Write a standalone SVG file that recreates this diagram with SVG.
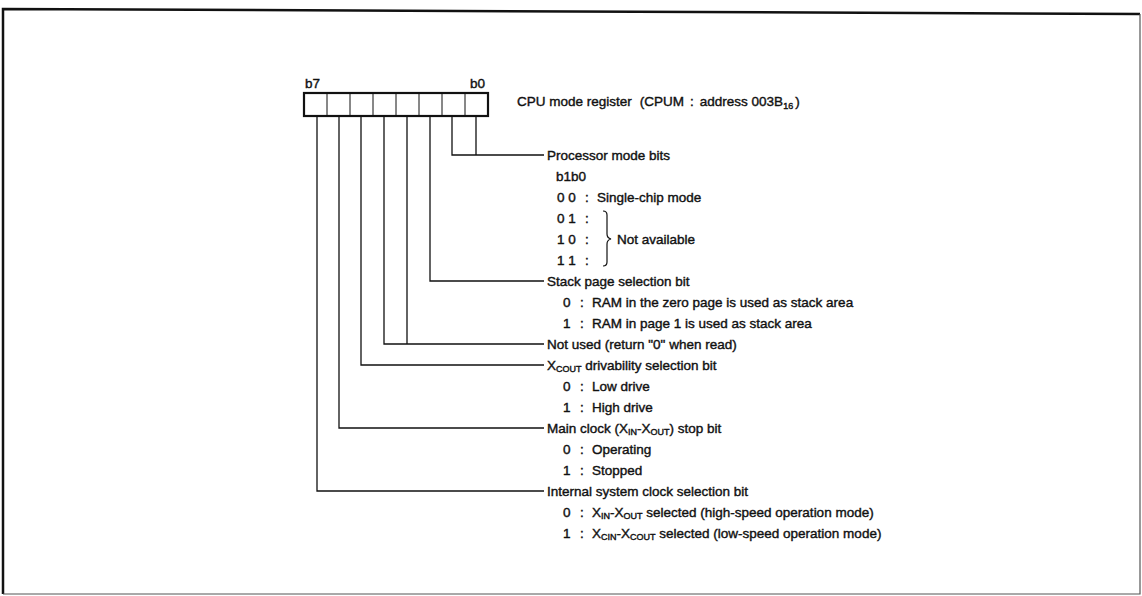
<svg xmlns="http://www.w3.org/2000/svg" width="1142" height="596" viewBox="0 0 1142 596">
<style>
text{font-family:"Liberation Sans",Arial,sans-serif;font-size:13.5px;fill:#111;stroke:#111;stroke-width:0.4}
.sub{font-size:9px}
.conn{fill:none;stroke:#111;stroke-width:1.3}
.cell{fill:none;stroke:#111;stroke-width:1}
</style>
<rect width="1142" height="596" fill="#fff"/>
<g id="frame">
<path d="M3,594 L3,9 L1140,14" fill="none" stroke="#111" stroke-width="2.5"/>
<path d="M1140,14 L1140,594 L3,594" fill="none" stroke="#555" stroke-width="1.2"/>
</g>
<g id="register">
<text x="305" y="88">b7</text>
<text x="470" y="88">b0</text>
<rect x="304" y="93" width="184" height="23" fill="none" stroke="#111" stroke-width="2.2"/>
<path class="cell" d="M327,93V116M350,93V116M373,93V116M396,93V116M419,93V116M442,93V116M465,93V116"/>
<text x="517" y="106">CPU mode register<tspan dx="8">(CPUM</tspan><tspan dx="6">:</tspan><tspan dx="6">address 003B</tspan><tspan class="sub" dy="3">16</tspan><tspan dy="-3" dx="2">)</tspan></text>
</g>
<g id="connectors">
<path class="conn" d="M476,116V155M452,116V155H544"/>
<path class="conn" d="M430,116V281H544"/>
<path class="conn" d="M407,116V344M384,116V344H544"/>
<path class="conn" d="M361,116V365H544"/>
<path class="conn" d="M339,116V428H544"/>
<path class="conn" d="M317,116V491H544"/>
</g>
<g id="processor-mode-bits">
<text x="547" y="160">Processor mode bits</text>
<text x="556" y="181">b1b0</text>
<text x="557" y="202">0 0</text><text x="585" y="202">:</text><text x="597" y="202">Single-chip mode</text>
<text x="557" y="223">0 1</text><text x="585" y="223">:</text>
<text x="557" y="244">1 0</text><text x="585" y="244">:</text>
<text x="557" y="265">1 1</text><text x="585" y="265">:</text>
<path d="M603,211 q4,0 4,4 V234 q0,4 4,5 q-4,1 -4,5 V262 q0,4 -4,4" fill="none" stroke="#111" stroke-width="1.2"/>
<text x="617" y="244">Not available</text>
</g>
<g id="stack-page-selection-bit">
<text x="547" y="286">Stack page selection bit</text>
<text x="563" y="307">0</text><text x="580" y="307">:</text><text x="592" y="307">RAM in the zero page is used as stack area</text>
<text x="563" y="328">1</text><text x="580" y="328">:</text><text x="592" y="328">RAM in page 1 is used as stack area</text>
</g>
<g id="not-used">
<text x="547" y="349">Not used (return "0" when read)</text>
</g>
<g id="xcout-drivability">
<text x="547" y="370">X<tspan class="sub" dy="2">COUT</tspan><tspan dy="-2"> drivability selection bit</tspan></text>
<text x="563" y="391">0</text><text x="580" y="391">:</text><text x="592" y="391">Low drive</text>
<text x="563" y="412">1</text><text x="580" y="412">:</text><text x="592" y="412">High drive</text>
</g>
<g id="main-clock-stop-bit">
<text x="547" y="433">Main clock (X<tspan class="sub" dy="2">IN</tspan><tspan dy="-2">-X</tspan><tspan class="sub" dy="2">OUT</tspan><tspan dy="-2">) stop bit</tspan></text>
<text x="563" y="454">0</text><text x="580" y="454">:</text><text x="592" y="454">Operating</text>
<text x="563" y="475">1</text><text x="580" y="475">:</text><text x="592" y="475">Stopped</text>
</g>
<g id="internal-system-clock">
<text x="547" y="496">Internal system clock selection bit</text>
<text x="563" y="517">0</text><text x="580" y="517">:</text><text x="592" y="517">X<tspan class="sub" dy="2">IN</tspan><tspan dy="-2">-X</tspan><tspan class="sub" dy="2">OUT</tspan><tspan dy="-2"> selected (high-speed operation mode)</tspan></text>
<text x="563" y="538">1</text><text x="580" y="538">:</text><text x="592" y="538">X<tspan class="sub" dy="2">CIN</tspan><tspan dy="-2">-X</tspan><tspan class="sub" dy="2">COUT</tspan><tspan dy="-2"> selected (low-speed operation mode)</tspan></text>
</g>
</svg>
